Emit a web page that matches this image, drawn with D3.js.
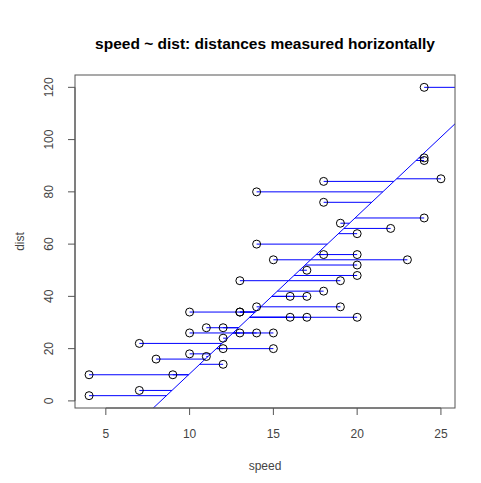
<!DOCTYPE html>
<html>
<head>
<meta charset="utf-8">
<script src="https://cdn.jsdelivr.net/npm/d3@7"></script>
<style>
  body { margin: 0; background: #fff; }
  text { font-family: "Liberation Sans", Arial, sans-serif; }
</style>
</head>
<body>
<div id="content"></div>
<script>
// cars data
var speed = [4,4,7,7,8,9,10,10,10,11,11,12,12,12,12,13,13,13,13,14,14,14,14,15,15,15,16,16,17,17,17,18,18,18,18,19,19,19,20,20,20,20,20,22,23,24,24,24,24,25];
var dist = [2,10,4,22,16,10,18,26,34,17,28,14,20,24,28,26,34,34,46,26,36,60,80,20,26,54,32,40,32,40,50,42,56,76,84,36,46,68,32,48,52,56,64,66,54,70,92,93,120,85];
var xTicks = [5, 10, 15, 20, 25];
var yTicks = [0, 20, 40, 60, 80, 100, 120];

var W = 481, H = 483;
var box = {left: 75, right: 455, top: 75, bottom: 408};

// fit speed ~ dist
var mx = d3.mean(dist), my = d3.mean(speed);
var sxy = d3.sum(dist, function(d, i) { return (d - mx) * (speed[i] - my); });
var sxx = d3.sum(dist, function(d) { return (d - mx) * (d - mx); });
var b = sxy / sxx, a = my - b * mx;

var x = d3.scaleLinear().domain([3.16, 25.84]).range([box.left, box.right]);
var y = d3.scaleLinear().domain([-2.72, 124.72]).range([box.bottom, box.top]);

var svg = d3.select("#content").append("svg")
  .attr("width", W)
  .attr("height", H);

svg.append("rect").attr("width", W).attr("height", H).attr("fill", "#fff");

svg.append("clipPath").attr("id", "clip")
  .append("rect")
  .attr("x", box.left).attr("y", box.top)
  .attr("width", box.right - box.left).attr("height", box.bottom - box.top);

var plot = svg.append("g").attr("clip-path", "url(#clip)");

// horizontal distances to the fitted line
plot.selectAll("line.seg")
  .data(dist)
  .enter().append("line")
  .attr("class", "seg")
  .attr("x1", function(d, i) { return x(speed[i]); })
  .attr("x2", function(d) { return x(a + b * d); })
  .attr("y1", function(d) { return y(d); })
  .attr("y2", function(d) { return y(d); })
  .attr("stroke", "#0000ff")
  .attr("stroke-width", 1);

// regression line
var d0 = (x.domain()[0] - a) / b, d1 = (x.domain()[1] - a) / b;
plot.append("line")
  .attr("x1", x(a + b * d0)).attr("y1", y(d0))
  .attr("x2", x(a + b * d1)).attr("y2", y(d1))
  .attr("stroke", "#0000ff")
  .attr("stroke-width", 1);

// points
svg.append("g").selectAll("circle")
  .data(dist)
  .enter().append("circle")
  .attr("cx", function(d, i) { return x(speed[i]); })
  .attr("cy", function(d) { return y(d); })
  .attr("r", 4)
  .attr("fill", "none")
  .attr("stroke", "#000")
  .attr("stroke-width", 1);

// box
svg.append("rect")
  .attr("x", box.left).attr("y", box.top)
  .attr("width", box.right - box.left).attr("height", box.bottom - box.top)
  .attr("fill", "none")
  .attr("stroke", "#555");

// x axis
var xa = svg.append("g");
xa.append("line")
  .attr("x1", x(xTicks[0])).attr("x2", x(xTicks[xTicks.length - 1]))
  .attr("y1", box.bottom).attr("y2", box.bottom)
  .attr("stroke", "#555");
xa.selectAll("line.tick").data(xTicks).enter().append("line")
  .attr("class", "tick")
  .attr("x1", function(d) { return x(d); }).attr("x2", function(d) { return x(d); })
  .attr("y1", box.bottom).attr("y2", box.bottom + 7)
  .attr("stroke", "#555");
xa.selectAll("text").data(xTicks).enter().append("text")
  .attr("x", function(d) { return x(d); })
  .attr("y", 438)
  .attr("text-anchor", "middle")
  .attr("font-size", 12)
  .attr("fill", "#444")
  .text(function(d) { return d; });

// y axis
var ya = svg.append("g");
ya.append("line")
  .attr("x1", box.left).attr("x2", box.left)
  .attr("y1", y(yTicks[0])).attr("y2", y(yTicks[yTicks.length - 1]))
  .attr("stroke", "#555");
ya.selectAll("line.tick").data(yTicks).enter().append("line")
  .attr("class", "tick")
  .attr("x1", box.left - 7).attr("x2", box.left)
  .attr("y1", function(d) { return y(d); }).attr("y2", function(d) { return y(d); })
  .attr("stroke", "#555");
ya.selectAll("text").data(yTicks).enter().append("text")
  .attr("transform", function(d) { return "translate(53," + y(d) + ") rotate(-90)"; })
  .attr("text-anchor", "middle")
  .attr("font-size", 12)
  .attr("fill", "#444")
  .text(function(d) { return d; });

// labels
svg.append("text")
  .attr("x", (box.left + box.right) / 2).attr("y", 470)
  .attr("text-anchor", "middle")
  .attr("font-size", 12)
  .attr("fill", "#444")
  .text("speed");

svg.append("text")
  .attr("transform", "translate(24," + ((box.top + box.bottom) / 2) + ") rotate(-90)")
  .attr("text-anchor", "middle")
  .attr("font-size", 12)
  .attr("fill", "#444")
  .text("dist");

svg.append("text")
  .attr("x", (box.left + box.right) / 2).attr("y", 49)
  .attr("text-anchor", "middle")
  .attr("font-size", 15.5)
  .attr("font-weight", "bold")
  .attr("fill", "#000")
  .text("speed ~ dist: distances measured horizontally");
</script>
</body>
</html>
